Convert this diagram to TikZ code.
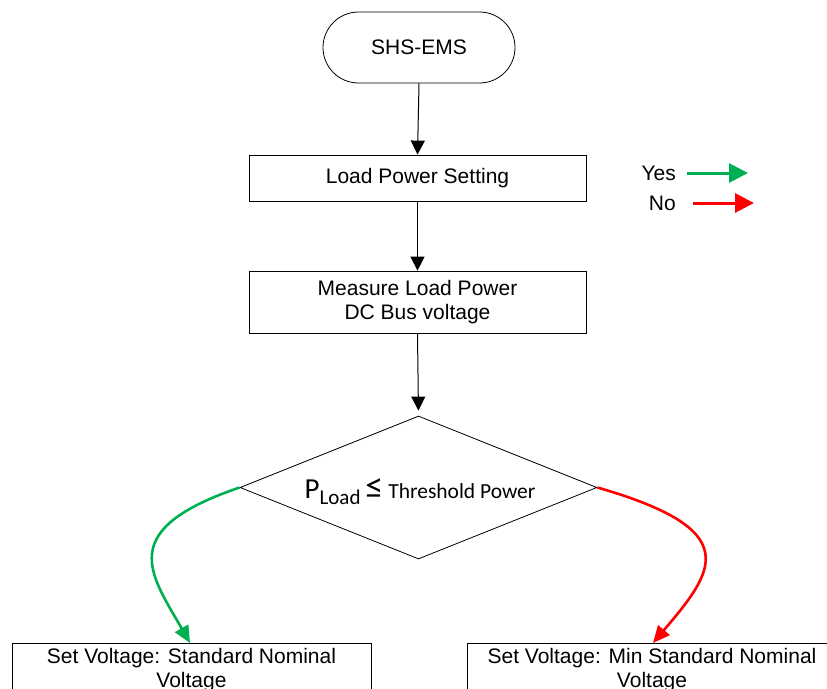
\documentclass[tikz,border=0pt]{standalone}
\usepackage{fontspec}
\setmainfont{Liberation Sans}
\newfontfamily\carlito{Carlito}
\usetikzlibrary{arrows.meta,shapes.geometric}
\definecolor{ygreen}{RGB}{0,176,80}
\definecolor{nred}{RGB}{255,0,0}
\begin{document}
\begin{tikzpicture}[x=1pt,y=-1pt,
  every node/.style={font=\fontsize{21}{24}\selectfont},
  procbox/.style={draw,line width=0.8pt,inner sep=0pt,align=center},
  flow/.style={line width=1pt,-{Triangle[length=14pt,width=14pt]}},
  yesline/.style={draw=ygreen,line width=2.6pt,-{Triangle[length=17pt,width=15pt]}},
  noline/.style={draw=nred,line width=2.6pt,-{Triangle[length=17pt,width=15pt]}}]
\useasboundingbox (0,0) rectangle (827,688);
\clip (0,0) rectangle (827,688);
% nodes
\node[procbox,rounded corners=35.5pt,minimum width=192pt,minimum height=71pt] (start) at (419,47.5) {SHS-EMS};
\node[procbox,minimum width=337pt,minimum height=46pt] (set) at (417.5,178) {Load Power Setting};
\node[procbox,minimum width=337pt,minimum height=62pt] (meas) at (417.5,302) {Measure Load Power\\DC Bus voltage};
\node[draw,line width=0.8pt,diamond,aspect=2.5,minimum width=357pt,minimum height=143pt,inner sep=0pt] (dec) at (418.5,487.5) {};
\node[anchor=base] (dectext) at (420,498) {\carlito\fontsize{29}{30}\selectfont P\raisebox{-6pt}{\fontsize{21}{21}\selectfont Load}\,{\fontsize{36}{36}\selectfont ≤}\hspace{5pt}\fontsize{21.5}{24}\selectfont Threshold Power};
\node[procbox,minimum width=359pt,minimum height=70pt,anchor=north] (stdv) at (191.5,643) {};
\node[procbox,minimum width=370pt,minimum height=70pt,anchor=north] (minv) at (652,643) {};
\node[anchor=base] (stdt1) at (191.5,663) {Set Voltage: Standard Nominal};
\node[anchor=base] (stdt2) at (191.5,687) {Voltage};
\node[anchor=base] (mint1) at (652,663) {Set Voltage: Min Standard Nominal};
\node[anchor=base] (mint2) at (652,687) {Voltage};
% legend
\node[anchor=base east,inner sep=0pt] (yes) at (676,180) {Yes};
\node[anchor=base east,inner sep=0pt] (no) at (676,210) {No};
\coordinate (ya) at (687,173);
\coordinate (yb) at (748,173);
\coordinate (na) at (693,203);
\coordinate (nb) at (754,203);
\draw[draw=ygreen,line width=3pt,-{Triangle[length=19pt,width=19pt]}] (ya) -- (yb);
\draw[draw=nred,line width=3pt,-{Triangle[length=19pt,width=19pt]}] (na) -- (nb);
% connectors
\draw[flow] (start.south) -- (set.north);
\draw[flow,line width=1.5pt] (set.south) -- (meas.north);
\draw[flow,shorten >=5pt] (meas.south) -- (dec.north);
\coordinate (gtip) at (190,643);
\coordinate (rtip) at (653,643);
\draw[yesline] (dec.west) .. controls (115,530) and (150,573) .. (gtip);
\draw[noline] (dec.east) .. controls (745,530) and (715,570) .. (rtip);
\end{tikzpicture}
\end{document}
